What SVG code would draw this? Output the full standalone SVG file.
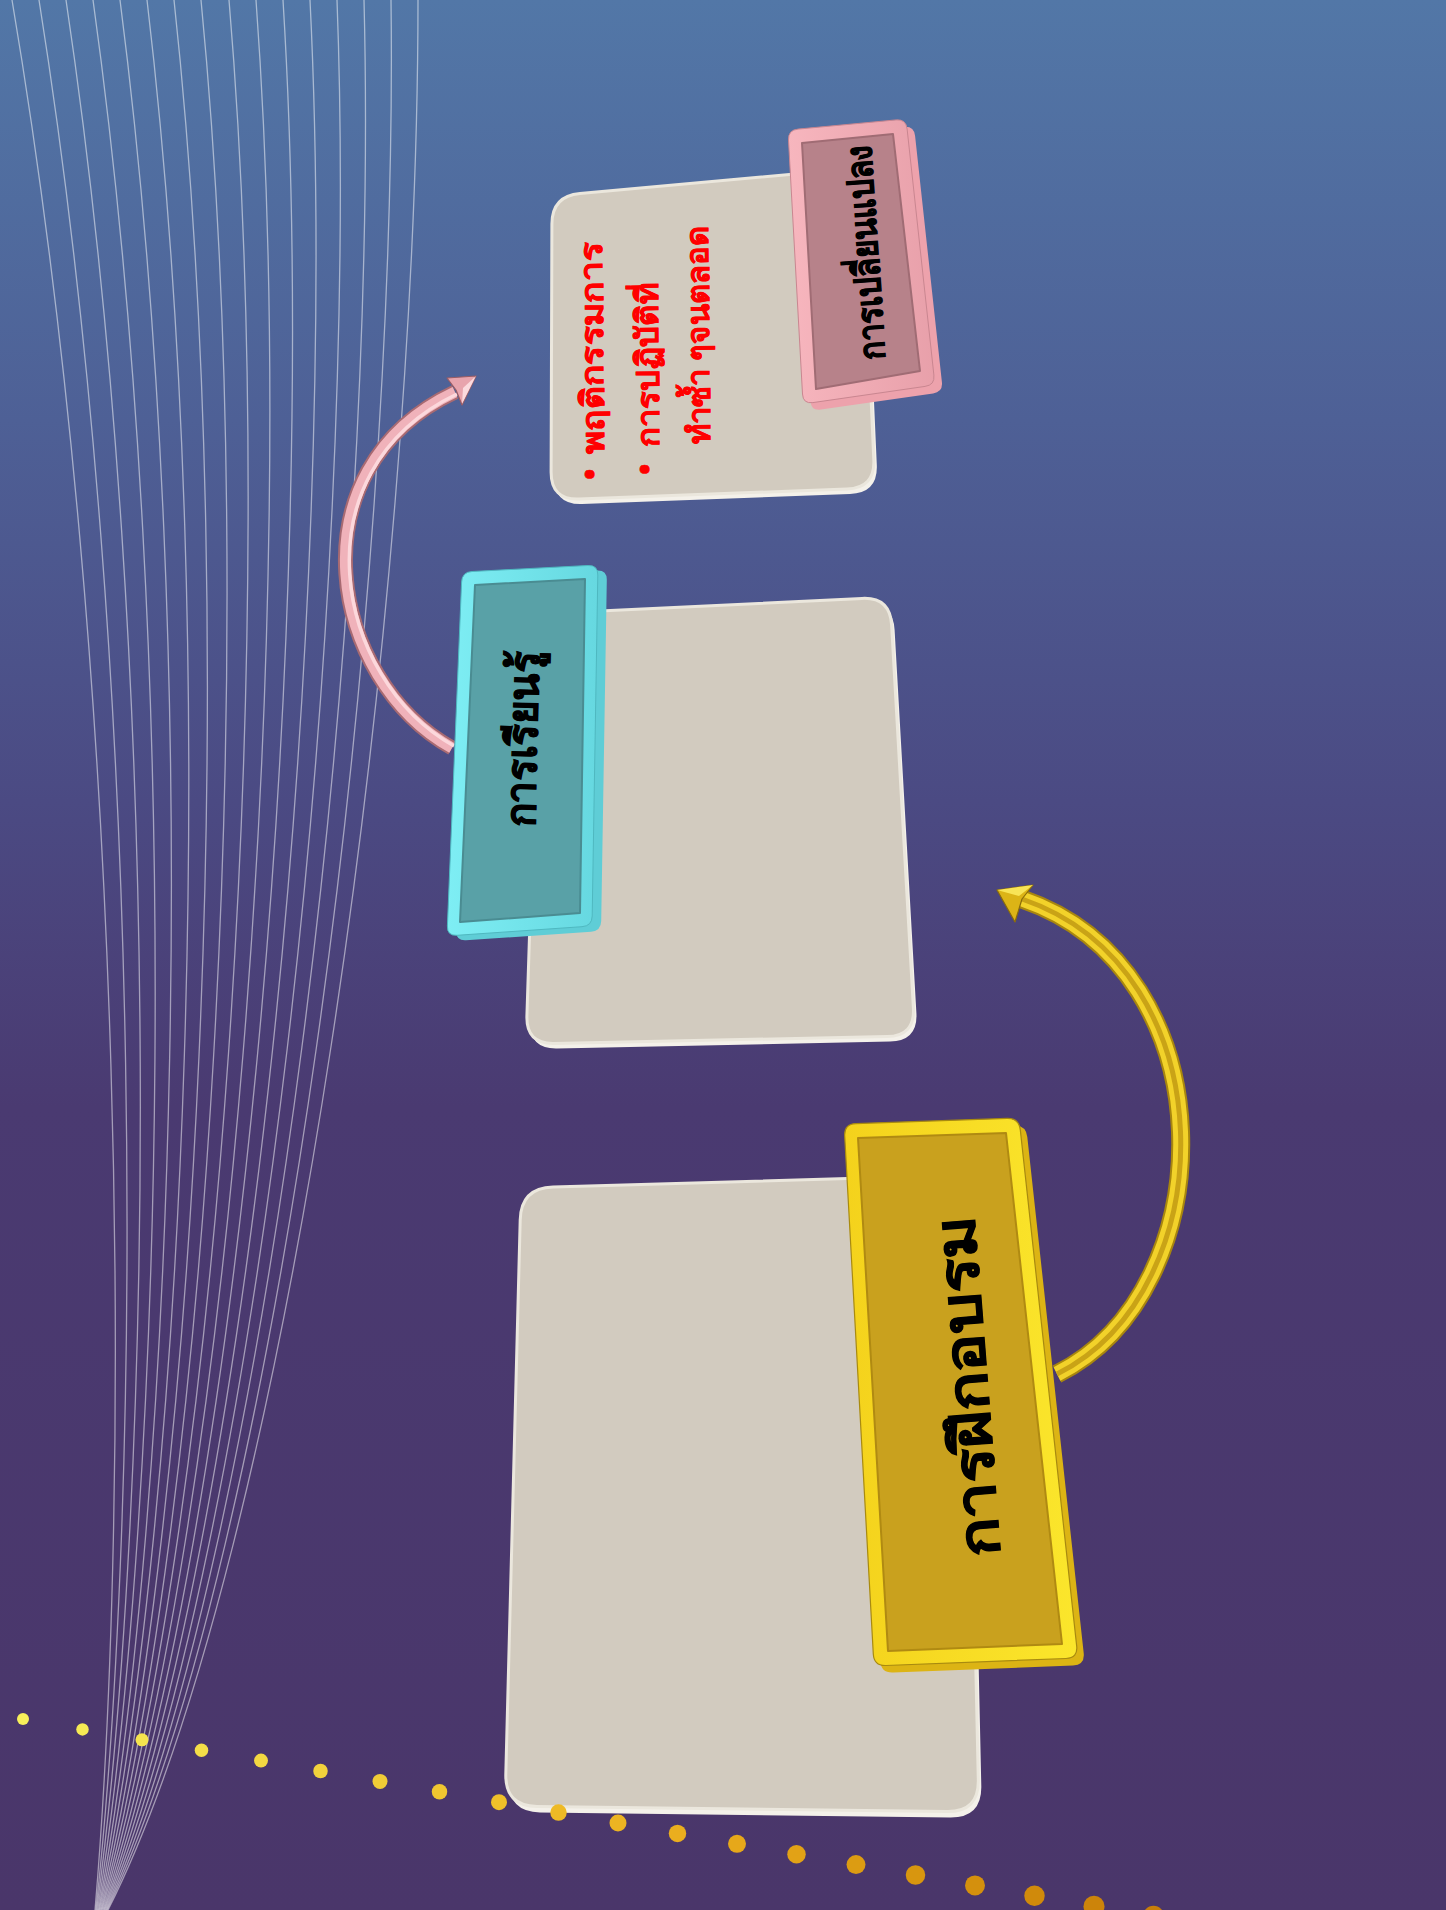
<svg xmlns="http://www.w3.org/2000/svg" width="1446" height="1910" viewBox="0 0 1446 1910">
<defs>
<linearGradient id="bg" x1="0" y1="0" x2="0" y2="1">
<stop offset="0" stop-color="#5277a7"/>
<stop offset="0.22" stop-color="#4e6096"/>
<stop offset="0.42" stop-color="#4b4a83"/>
<stop offset="0.58" stop-color="#4a3a71"/>
<stop offset="1" stop-color="#4a366a"/>
</linearGradient>
<linearGradient id="pinkRim" x1="0" y1="0" x2="1" y2="0">
<stop offset="0" stop-color="#f7b6be"/><stop offset="1" stop-color="#e8a0aa"/>
</linearGradient>
<linearGradient id="cyanRim" x1="0" y1="0" x2="1" y2="0">
<stop offset="0" stop-color="#7eeef4"/><stop offset="1" stop-color="#66d8e0"/>
</linearGradient>
<linearGradient id="yellowRim" x1="0" y1="0" x2="1" y2="0">
<stop offset="0" stop-color="#f4d21c"/><stop offset="1" stop-color="#fbe62c"/>
</linearGradient>
<style>
.fan{fill:none;stroke:#ffffff;stroke-opacity:0.5;stroke-width:1.3}
.cardSide{fill:#f4f1ea}
.card{fill:#d2cbbf;stroke:#ebe7dd;stroke-width:3}
.lbl{font-family:'Noto Sans','DejaVu Sans',sans-serif;font-weight:bold;fill:#000;stroke:#000;stroke-width:0.9}
.red{font-family:'Noto Sans','DejaVu Sans',sans-serif;font-weight:bold;fill:#ff0000;stroke:#ff0000;stroke-width:0.5}
</style>
</defs>
<rect x="0" y="0" width="1446" height="1910" fill="url(#bg)"/>
<g id="fan-lines">
<path class="fan" d="M12 0 C130 700 130 1500 95 1910"/>
<path class="fan" d="M39 0 C149.2 693 140.7 1503 95.9 1910"/>
<path class="fan" d="M66 0 C168.4 687 151.3 1507 96.7 1910"/>
<path class="fan" d="M93 0 C187.6 680 162 1510 97.6 1910"/>
<path class="fan" d="M120 0 C206.8 673 172.7 1513 98.5 1910"/>
<path class="fan" d="M147 0 C226 667 183.3 1517 99.3 1910"/>
<path class="fan" d="M174 0 C245.2 660 194 1520 100.2 1910"/>
<path class="fan" d="M201 0 C264.4 653 204.7 1523 101.1 1910"/>
<path class="fan" d="M229 0 C283.6 647 215.3 1527 101.9 1910"/>
<path class="fan" d="M256 0 C302.8 640 226 1530 102.8 1910"/>
<path class="fan" d="M283 0 C322 633 236.7 1533 103.7 1910"/>
<path class="fan" d="M310 0 C341.2 627 247.3 1537 104.5 1910"/>
<path class="fan" d="M337 0 C360.4 620 258 1540 105.4 1910"/>
<path class="fan" d="M364 0 C379.6 613 268.7 1543 106.3 1910"/>
<path class="fan" d="M391 0 C398.8 607 279.3 1547 107.1 1910"/>
<path class="fan" d="M418 0 C418 600 290 1550 108 1910"/>
</g>
<g id="connectors">
<g id="arrow-learning-to-change">
<path d="M452 748 C330 680 290 470 455 392" fill="none" stroke="#a86a72" stroke-width="15"/>
<path d="M452 748 C330 680 290 470 455 392" fill="none" stroke="#f0b2ba" stroke-width="11"/>
<path d="M454 746 C334 679 295 472 457 394" fill="none" stroke="#fcd8dc" stroke-width="3.5"/>
<polygon points="476,376 447,378 456,390 462,405" fill="#e8a4ad" stroke="#9a5c64" stroke-width="1.2" stroke-linejoin="round"/>
<polygon points="476,376 462,404 463,388" fill="#fbdade"/>
</g>
<g id="arrow-training-to-learning">
<path d="M1057 1374 C1225 1290 1230 970 1022 899" fill="none" stroke="#a8860e" stroke-width="19"/>
<path d="M1057 1374 C1225 1290 1230 970 1022 899" fill="none" stroke="#f2d22a" stroke-width="15"/>
<path d="M1057 1374 C1225 1290 1230 970 1022 899" fill="none" stroke="#c9a316" stroke-width="5"/>
<polygon points="997,890 1033,885 1022,899 1015,922" fill="#dcb416" stroke="#8a6c0a" stroke-width="1.2" stroke-linejoin="round"/>
<polygon points="997,890 1033,885 1019,896" fill="#f8e456"/>
</g>
</g>
<g id="node-change">
<path class="cardSide" transform="translate(3,5)" d="M579.9 193.5 L833.1 170.5 Q861 168 862.2 196 L873.8 460 Q875 488 847 489 L579 499 Q551 500 551.1 472 L551.9 224 Q552 196 579.9 193.5 Z"/>
<path class="card" d="M579.9 193.5 L833.1 170.5 Q861 168 862.2 196 L873.8 460 Q875 488 847 489 L579 499 Q551 500 551.1 472 L551.9 224 Q552 196 579.9 193.5 Z"/>
<text class="red" font-size="31" transform="translate(601,480) rotate(-90.5)">•</text>
<text class="red" font-size="31" textLength="212" lengthAdjust="spacingAndGlyphs" transform="translate(604,454) rotate(-90.5)">พฤติกรรมการ</text>
<text class="red" font-size="31" transform="translate(656,475) rotate(-90.5)">•</text>
<text class="red" font-size="31" textLength="164" lengthAdjust="spacingAndGlyphs" transform="translate(659,447) rotate(-90.5)">การปฏิบัติที่</text>
<text class="red" font-size="31" textLength="218" lengthAdjust="spacingAndGlyphs" transform="translate(710,444) rotate(-90.5)">ทำซ้ำ ๆจนตลอด</text>
<path transform="translate(8,7)" fill="#eda2ac" d="M798 129.1 L896 119.9 Q906 119 907.1 128.9 L933.9 375.1 Q935 385 925.1 386.4 L812.9 402.6 Q803 404 802.5 394 L788.5 140 Q788 130 798 129.1 Z"/>
<path fill="url(#pinkRim)" stroke="#c98690" stroke-width="1" d="M798 129.1 L896 119.9 Q906 119 907.1 128.9 L933.9 375.1 Q935 385 925.1 386.4 L812.9 402.6 Q803 404 802.5 394 L788.5 140 Q788 130 798 129.1 Z"/>
<polygon points="802,143 893,134 920,371 816,389" fill="#b7828a" stroke="#a06c74" stroke-width="2" stroke-linejoin="round"/>
<text class="lbl" font-size="36" textLength="215" lengthAdjust="spacingAndGlyphs" text-anchor="middle" y="10" transform="translate(868,252) rotate(-94)">การเปลี่ยนแปลง</text>
</g>
<g id="node-learning">
<path class="cardSide" transform="translate(3,5)" d="M568 612.6 L862 598.4 Q890 597 891.6 625 L913.4 1008 Q915 1036 887 1036.6 L554 1043.4 Q526 1044 526.9 1016 L539.1 642 Q540 614 568 612.6 Z"/>
<path class="card" d="M568 612.6 L862 598.4 Q890 597 891.6 625 L913.4 1008 Q915 1036 887 1036.6 L554 1043.4 Q526 1044 526.9 1016 L539.1 642 Q540 614 568 612.6 Z"/>
<path transform="translate(9,5)" fill="#5fcdd6" d="M472 571.5 L588 565.5 Q598 565 597.8 575 L592.2 916 Q592 926 582 926.7 L457 935.3 Q447 936 447.4 926 L461.6 582 Q462 572 472 571.5 Z"/>
<path fill="url(#cyanRim)" stroke="#4fb8c0" stroke-width="1" d="M472 571.5 L588 565.5 Q598 565 597.8 575 L592.2 916 Q592 926 582 926.7 L457 935.3 Q447 936 447.4 926 L461.6 582 Q462 572 472 571.5 Z"/>
<polygon points="475,585 585,579 580,913 460,922" fill="#59a1a7" stroke="#4a8c92" stroke-width="2" stroke-linejoin="round"/>
<text class="lbl" font-size="42" textLength="176" lengthAdjust="spacingAndGlyphs" text-anchor="middle" y="11" transform="translate(526,739) rotate(-88.5)">การเรียนรู้</text>
</g>
<g id="node-training">
<path class="cardSide" transform="translate(3,6)" d="M553 1187.1 L933 1175.9 Q965 1175 965.7 1207 L978.3 1780 Q979 1812 947 1811.6 L537 1806.4 Q505 1806 505.8 1774 L520.2 1220 Q521 1188 553 1187.1 Z"/>
<path class="card" d="M553 1187.1 L933 1175.9 Q965 1175 965.7 1207 L978.3 1780 Q979 1812 947 1811.6 L537 1806.4 Q505 1806 505.8 1774 L520.2 1220 Q521 1188 553 1187.1 Z"/>
<path transform="translate(7,7)" fill="#dcb414" d="M856 1123.6 L1007 1118.4 Q1019 1118 1020.3 1129.9 L1076.7 1646.1 Q1078 1658 1066 1658.5 L886 1665.5 Q874 1666 873.3 1654 L844.7 1136 Q844 1124 856 1123.6 Z"/>
<path fill="url(#yellowRim)" stroke="#a88a10" stroke-width="1.2" d="M856 1123.6 L1007 1118.4 Q1019 1118 1020.3 1129.9 L1076.7 1646.1 Q1078 1658 1066 1658.5 L886 1665.5 Q874 1666 873.3 1654 L844.7 1136 Q844 1124 856 1123.6 Z"/>
<polygon points="858,1138 1006,1133 1062,1644 888,1651" fill="#c9a11e" stroke="#b08a12" stroke-width="2" stroke-linejoin="round"/>
<text class="lbl" font-size="56" textLength="342" lengthAdjust="spacingAndGlyphs" text-anchor="middle" y="15" transform="translate(972,1386) rotate(-94.5)">การฝึกอบรม</text>
</g>
<g id="dots">
<circle cx="23" cy="1719" r="6" fill="#f8f05a"/>
<circle cx="82.5" cy="1729.4" r="6.25" fill="#f6ea54"/>
<circle cx="142" cy="1739.8" r="6.5" fill="#f5e44e"/>
<circle cx="201.5" cy="1750.2" r="6.75" fill="#f4de48"/>
<circle cx="261" cy="1760.6" r="7" fill="#f3d842"/>
<circle cx="320.5" cy="1771" r="7.25" fill="#f2d23c"/>
<circle cx="380" cy="1781.4" r="7.5" fill="#f1cc36"/>
<circle cx="439.5" cy="1791.8" r="7.75" fill="#f0c630"/>
<circle cx="499" cy="1802.2" r="8" fill="#efc02a"/>
<circle cx="558.5" cy="1812.6" r="8.25" fill="#eeba26"/>
<circle cx="618" cy="1823" r="8.5" fill="#ecb422"/>
<circle cx="677.5" cy="1833.4" r="8.75" fill="#eaae1e"/>
<circle cx="737" cy="1843.8" r="9" fill="#e6a81a"/>
<circle cx="796.5" cy="1854.2" r="9.25" fill="#e2a216"/>
<circle cx="856" cy="1864.6" r="9.5" fill="#dc9c12"/>
<circle cx="915.5" cy="1875" r="9.75" fill="#d8960f"/>
<circle cx="975" cy="1885.4" r="10" fill="#d4900d"/>
<circle cx="1034.5" cy="1895.8" r="10.25" fill="#d08a0b"/>
<circle cx="1094" cy="1906.2" r="10.5" fill="#cc840a"/>
<circle cx="1153.5" cy="1916.6" r="10.75" fill="#c87e09"/>
</g>
</svg>
